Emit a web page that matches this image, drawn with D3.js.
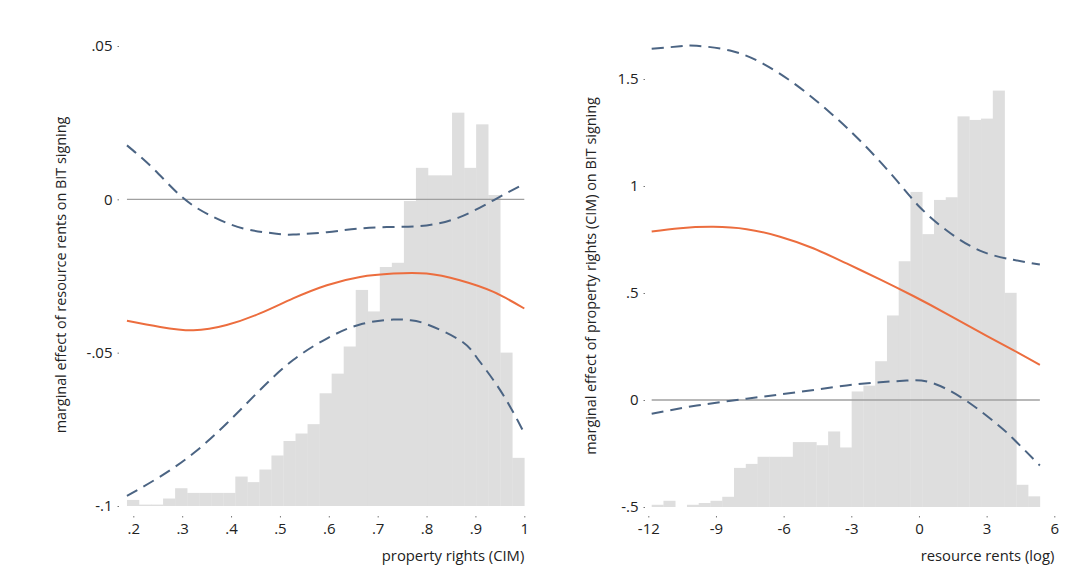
<!DOCTYPE html>
<html>
<head>
<meta charset="utf-8">
<script src="https://cdn.jsdelivr.net/npm/d3@7"></script>
<style>
  html, body { margin: 0; padding: 0; background: #fff; }
  svg { display: block; }
  text { font-family: "Open Sans", "Noto Sans", sans-serif; fill: #222; }
</style>
</head>
<body>
<svg id="chart" width="1083" height="585"></svg>
<script>
// ---------- LEFT PANEL DATA ----------
const leftXTicks = [0.2, 0.3, 0.4, 0.5, 0.6, 0.7, 0.8, 0.9, 1];
const leftYTicks = [-0.1, -0.05, 0, 0.05];
const leftXTickLabels = [".2", ".3", ".4", ".5", ".6", ".7", ".8", ".9", "1"];
const leftYTickLabels = ["-.1", "-.05", "0", ".05"];
const leftXTitle = "property rights (CIM)";
const leftYTitle = "marginal effect of resource rents on BIT signing";

const leftEffectX = [0.187, 0.255, 0.323, 0.391, 0.459, 0.527, 0.596, 0.664, 0.732, 0.800, 0.868, 0.937, 1.0];
const leftEffect  = [-0.0396, -0.0416, -0.0427, -0.0410, -0.0372, -0.0323, -0.0280, -0.0253, -0.0242, -0.0242, -0.0264, -0.0302, -0.0356];

const leftUpperX = [0.187, 0.241, 0.300, 0.357, 0.425, 0.493, 0.527, 0.596, 0.664, 0.732, 0.800, 0.868, 0.937, 1.0];
const leftUpper  = [0.0176, 0.0100, 0.0007, -0.0052, -0.0095, -0.0112, -0.0115, -0.0107, -0.0095, -0.0090, -0.0085, -0.0058, -0.0003, 0.0051];

const leftLowerX = [0.187, 0.255, 0.323, 0.391, 0.459, 0.527, 0.596, 0.664, 0.732, 0.766, 0.800, 0.868, 0.902, 0.937, 0.971, 1.0];
const leftLower  = [-0.0967, -0.0904, -0.0828, -0.0731, -0.0622, -0.0524, -0.0454, -0.0408, -0.0392, -0.0394, -0.0407, -0.0459, -0.0514, -0.0590, -0.0676, -0.0763];

// histogram of property rights (percent per bin)
const leftHistStart = 0.187;
const leftHistEnd = 1.0;
const leftHist = [0.13, 0.03, 0.03, 0.16, 0.38, 0.28, 0.28, 0.28, 0.28, 0.63, 0.51, 0.78, 1.08,
                  1.39, 1.55, 1.75, 2.41, 2.83, 3.41, 4.62, 4.16, 5.11, 5.20, 6.52, 7.23, 7.07,
                  7.07, 8.41, 7.23, 8.16, 6.65, 3.28, 1.03];

// ---------- RIGHT PANEL DATA ----------
const rightXTicks = [-12, -9, -6, -3, 0, 3, 6];
const rightYTicks = [-0.5, 0, 0.5, 1, 1.5];
const rightXTickLabels = ["-12", "-9", "-6", "-3", "0", "3", "6"];
const rightYTickLabels = ["-.5", "0", ".5", "1", "1.5"];
const rightXTitle = "resource rents (log)";
const rightYTitle = "marginal effect of property rights (CIM) on BIT signing";

const rightEffectX = [-11.85, -10.59, -9.12, -7.64, -6.16, -4.69, -3.21, -1.73, -0.25, 1.23, 2.70, 4.18, 5.36];
const rightEffect  = [0.787, 0.803, 0.809, 0.798, 0.763, 0.709, 0.638, 0.564, 0.486, 0.403, 0.317, 0.233, 0.164];

const rightUpperX = [-11.85, -10.59, -9.85, -8.38, -6.90, -5.42, -3.96, -2.47, -0.99, 0.04, 1.23, 2.70, 4.18, 5.36];
const rightUpper  = [1.641, 1.653, 1.655, 1.633, 1.571, 1.470, 1.345, 1.197, 1.026, 0.901, 0.792, 0.698, 0.655, 0.633];

const rightLowerX = [-11.85, -9.85, -7.64, -5.42, -3.21, -1.73, -0.55, 0.49, 1.96, 3.44, 4.18, 5.36];
const rightLower  = [-0.064, -0.026, 0.006, 0.036, 0.068, 0.083, 0.091, 0.083, 0.006, -0.111, -0.181, -0.306];

// histogram of resource rents (percent per bin)
const rightHistStart = -11.85;
const rightHistEnd = 5.36;
const rightHist = [0.05, 0.14, 0, 0.05, 0.09, 0.14, 0.23, 0.88, 0.97, 1.13, 1.13, 1.13, 1.46,
                   1.46, 1.39, 1.70, 1.34, 2.60, 2.73, 3.28, 4.31, 5.53, 7.09, 6.14, 6.91, 6.97,
                   8.79, 8.71, 8.74, 9.37, 4.82, 0.50, 0.24];

// ---------- STYLE ----------
const COLOR_EFFECT = "#ec6d3e";
const COLOR_CI = "#4b6483";
const COLOR_HIST = "#dedede";
const COLOR_ZERO = "#a0a0a0";

const svg = d3.select("#chart");
svg.append("rect").attr("width", 1083).attr("height", 585).attr("fill", "#fff");

function drawPanel(cfg) {
  const g = svg.append("g");
  const x = d3.scaleLinear().domain(cfg.xDomain).range(cfg.xRange);
  const y = d3.scaleLinear().domain(cfg.yDomain).range(cfg.yRange);
  const y2 = d3.scaleLinear().domain([0, 10]).range([cfg.yRange[0], cfg.yRange[0] - cfg.histPx]);

  // histogram
  const n = cfg.hist.length;
  const w = (cfg.histEnd - cfg.histStart) / n;
  g.append("g").selectAll("rect").data(cfg.hist).join("rect")
    .attr("x", (d, i) => x(cfg.histStart + i * w))
    .attr("width", (d, i) => x(cfg.histStart + (i + 1) * w) - x(cfg.histStart + i * w) + 0.3)
    .attr("y", d => y2(d))
    .attr("height", d => y2(0) - y2(d))
    .attr("fill", COLOR_HIST);

  // zero line
  g.append("line")
    .attr("x1", x(cfg.histStart)).attr("x2", x(cfg.histEnd))
    .attr("y1", y(0)).attr("y2", y(0))
    .attr("stroke", COLOR_ZERO).attr("stroke-width", 1.4);

  const line = d3.line().x(d => x(d[0])).y(d => y(d[1])).curve(d3.curveNatural);
  const zip = (a, b) => a.map((v, i) => [v, b[i]]);

  g.append("path").datum(zip(cfg.upperX, cfg.upper)).attr("d", line)
    .attr("fill", "none").attr("stroke", COLOR_CI).attr("stroke-width", 2)
    .attr("stroke-dasharray", "12,7");
  g.append("path").datum(zip(cfg.lowerX, cfg.lower)).attr("d", line)
    .attr("fill", "none").attr("stroke", COLOR_CI).attr("stroke-width", 2)
    .attr("stroke-dasharray", "12,7");
  g.append("path").datum(zip(cfg.effectX, cfg.effect)).attr("d", line)
    .attr("fill", "none").attr("stroke", COLOR_EFFECT).attr("stroke-width", 2);

  // axes
  const ax = g.append("g").attr("transform", `translate(0,${cfg.xAxisY})`)
    .call(d3.axisBottom(x).tickValues(cfg.xTicks).tickSize(1.5).tickPadding(6)
      .tickFormat((d, i) => cfg.xTickLabels[i]));
  const ay = g.append("g").attr("transform", `translate(${cfg.yAxisX},0)`)
    .call(d3.axisLeft(y).tickValues(cfg.yTicks).tickSize(1.5).tickPadding(5)
      .tickFormat((d, i) => cfg.yTickLabels[i]));
  [ax, ay].forEach(a => {
    a.select(".domain").remove();
    a.selectAll(".tick line").attr("stroke", "#777");
    a.selectAll(".tick text").attr("font-size", 15).attr("fill", "#1e1e1e")
      .style("font-family", '"Open Sans", "Noto Sans", sans-serif');
  });

  // titles
  g.append("text").attr("x", cfg.xRange[1]).attr("y", 561)
    .attr("text-anchor", "end").attr("font-size", 14.8).attr("fill", "#2a2a2a")
    .text(cfg.xTitle);
  g.append("text")
    .attr("transform", `translate(${cfg.yTitleX},${cfg.yTitleY}) rotate(-90)`)
    .attr("text-anchor", "middle").attr("font-size", 14.4).attr("fill", "#2a2a2a")
    .text(cfg.yTitle);
}

drawPanel({
  xDomain: [0.2, 1], xRange: [133.3, 524.3],
  yDomain: [-0.1, 0.05], yRange: [506, 46],
  histPx: 467.7,
  hist: leftHist, histStart: leftHistStart, histEnd: leftHistEnd,
  effectX: leftEffectX, effect: leftEffect,
  upperX: leftUpperX, upper: leftUpper,
  lowerX: leftLowerX, lower: leftLower,
  xTicks: leftXTicks, xTickLabels: leftXTickLabels,
  yTicks: leftYTicks, yTickLabels: leftYTickLabels,
  xAxisY: 516, yAxisX: 119,
  xTitle: leftXTitle, yTitle: leftYTitle, yTitleX: 66, yTitleY: 275
});

drawPanel({
  xDomain: [-12, 6], xRange: [648.3, 1054.3],
  yDomain: [-0.5, 1.5], yRange: [507, 79],
  histPx: 444.4,
  hist: rightHist, histStart: rightHistStart, histEnd: rightHistEnd,
  effectX: rightEffectX, effect: rightEffect,
  upperX: rightUpperX, upper: rightUpper,
  lowerX: rightLowerX, lower: rightLower,
  xTicks: rightXTicks, xTickLabels: rightXTickLabels,
  yTicks: rightYTicks, yTickLabels: rightYTickLabels,
  xAxisY: 516, yAxisX: 645,
  xTitle: rightXTitle, yTitle: rightYTitle, yTitleX: 596, yTitleY: 276
});
</script>
</body>
</html>
